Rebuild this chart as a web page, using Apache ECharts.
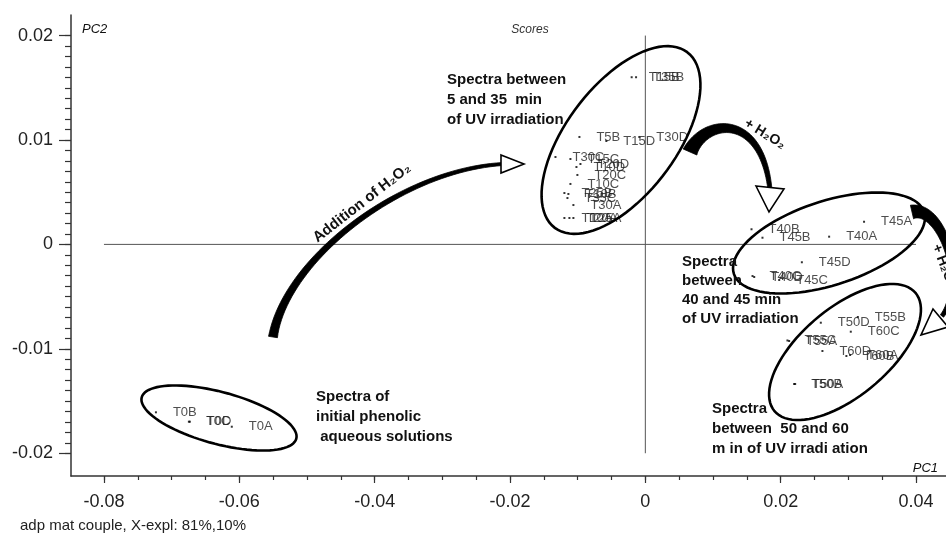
<!DOCTYPE html>
<html><head><meta charset="utf-8">
<script src="https://cdn.jsdelivr.net/npm/echarts@6/dist/echarts.min.js"></script>
<style>html,body{margin:0;padding:0;background:#fff}#c{width:946px;height:535px}</style>
</head><body><div id="c"></div>
<script>
// ---- data ----
const xTicks = [-0.08, -0.06, -0.04, -0.02, 0, 0.02, 0.04];
const yTicks = [-0.02, -0.01, 0, 0.01, 0.02];

const t0Labels = ['T0B', 'T0C', 'T0D', 'T0A'];
const t0PC1 = [-0.07232, -0.06745, -0.06731, -0.06111];
const t0PC2 = [-0.01608, -0.01698, -0.01698, -0.01746];

const t5Labels = ['T15B', 'T35B', 'T5B', 'T15D', 'T30D', 'T30C', 'T15C', 'T20D', 'T10D', 'T20C', 'T10C', 'T25B', 'T10B', 'T35C', 'T30A', 'T10A', 'T20A', 'T25A'];
const t5PC1 = [-0.00202, -0.00137, -0.00974, -0.00576, -0.00089, -0.01328, -0.01107, -0.00959, -0.01018, -0.01004, -0.01107, -0.01196, -0.01137, -0.01151, -0.01063, -0.01196, -0.01122, -0.01063];
const t5PC2 = [0.01601, 0.01601, 0.01029, 0.0099, 0.01029, 0.00837, 0.00818, 0.0077, 0.00741, 0.00665, 0.00579, 0.00492, 0.00483, 0.00444, 0.00377, 0.00253, 0.00253, 0.00253];

const t40Labels = ['T40B', 'T45B', 'T40A', 'T45A', 'T45D', 'T40C', 'T40D', 'T45C'];
const t40PC1 = [0.01569, 0.01731, 0.02716, 0.03232, 0.02313, 0.01584, 0.01609, 0.01978];
const t40PC2 = [0.00145, 0.00064, 0.00074, 0.00217, -0.00171, -0.00303, -0.00312, -0.00341];

const t50Labels = ['T50D', 'T55B', 'T60C', 'T55C', 'T55A', 'T60D', 'T60B', 'T60A', 'T50B', 'T50A'];
const t50PC1 = [0.02593, 0.0314, 0.03036, 0.021, 0.02125, 0.02617, 0.02971, 0.03026, 0.02199, 0.02214];
const t50PC2 = [-0.0075, -0.00695, -0.00836, -0.0092, -0.00925, -0.01021, -0.01069, -0.01059, -0.01337, -0.01337];

const hZeroPC1 = [-0.08, 0.04];
const vZeroPC2 = [-0.02, 0.02];

// ---- helpers ----
const FONT = '"Liberation Sans", Arial, sans-serif';
function pts(labels, xs, ys) { return labels.map((l, i) => ({ name: l, value: [xs[i], ys[i]] })); }
function minorTicks(a, b, step) { const r = []; const n = Math.round((b - a) / step); for (let i = 0; i <= n; i++) r.push(+(a + i * step).toFixed(4)); return r; }
const fmt = v => (Math.abs(v) < 1e-9 ? '0' : v.toFixed(2));

function ellipse(cx, cy, a, b, deg) {
  const r = deg * Math.PI / 180, p = [];
  for (let i = 0; i < 90; i++) {
    const t = i / 90 * 2 * Math.PI, x = a * Math.cos(t), y = b * Math.sin(t);
    p.push([cx + x * Math.cos(r) - y * Math.sin(r), cy + x * Math.sin(r) + y * Math.cos(r)]);
  }
  return { type: 'polygon', shape: { points: p }, style: { fill: 'none', stroke: '#000', lineWidth: 2.6 }, z: 50 };
}
function ribbon(p0, p1, p2, p3, w0, w1) {
  const L = [], R = [], N = 50;
  for (let i = 0; i <= N; i++) {
    const t = i / N, u = 1 - t;
    const x = u*u*u*p0[0] + 3*u*u*t*p1[0] + 3*u*t*t*p2[0] + t*t*t*p3[0];
    const y = u*u*u*p0[1] + 3*u*u*t*p1[1] + 3*u*t*t*p2[1] + t*t*t*p3[1];
    const dx = 3*u*u*(p1[0]-p0[0]) + 6*u*t*(p2[0]-p1[0]) + 3*t*t*(p3[0]-p2[0]);
    const dy = 3*u*u*(p1[1]-p0[1]) + 6*u*t*(p2[1]-p1[1]) + 3*t*t*(p3[1]-p2[1]);
    const len = Math.hypot(dx, dy) || 1, nx = -dy / len, ny = dx / len;
    const w = (w0 + (w1 - w0) * Math.pow(t, 0.7)) / 2;
    L.push([x + nx * w, y + ny * w]); R.push([x - nx * w, y - ny * w]);
  }
  return { type: 'polygon', shape: { points: L.concat(R.reverse()) }, style: { fill: '#000', stroke: '#000', lineWidth: 0.8 }, z: 50 };
}
function head(points) {
  return { type: 'polygon', shape: { points }, style: { fill: '#fff', stroke: '#000', lineWidth: 1.6 }, z: 51 };
}
function txt(x, y, text, font, extra) {
  return Object.assign({ type: 'text', x, y, z: 60, style: Object.assign({ text, font, fill: '#111' }, extra || {}) });
}

const chart = echarts.init(document.getElementById('c'), null, { renderer: 'canvas' });
const xMin = -0.08487, xMax = 0.04443, yMin = -0.02218, yMax = 0.02197;

const scatterBase = {
  type: 'scatter', symbol: 'rect', symbolSize: 2,
  itemStyle: { color: '#000' },
  label: { show: true, position: 'right', distance: 16, formatter: '{b}', fontSize: 13, color: '#222', fontFamily: FONT },
  labelLayout: { hideOverlap: false },
  z: 10
};

chart.setOption({
  animation: false,
  backgroundColor: '#fff',
  grid: { left: 71, right: 0, top: 15, bottom: 59, containLabel: false, outerBoundsMode: 'none' },
  xAxis: [
    { type: 'value', min: xMin, max: xMax, position: 'bottom',
      axisLine: { show: true, onZero: false, lineStyle: { color: '#333', width: 1.5 } },
      axisTick: { show: true, customValues: xTicks, length: 7, lineStyle: { color: '#333', width: 1.2 } },
      axisLabel: { show: true, customValues: xTicks, formatter: fmt, fontSize: 18, color: '#222', fontFamily: FONT, margin: 17 },
      splitLine: { show: false } },
    { type: 'value', min: xMin, max: xMax, position: 'bottom',
      axisLine: { show: false, onZero: false },
      axisTick: { show: true, customValues: minorTicks(-0.08, 0.04, 0.005), length: 4, lineStyle: { color: '#333', width: 1.2 } },
      axisLabel: { show: false }, splitLine: { show: false } }
  ],
  yAxis: [
    { type: 'value', min: yMin, max: yMax, position: 'left',
      axisLine: { show: true, onZero: false, lineStyle: { color: '#333', width: 1.5 } },
      axisTick: { show: true, customValues: yTicks, length: 12, lineStyle: { color: '#333', width: 1.2 } },
      axisLabel: { show: true, customValues: yTicks, formatter: fmt, fontSize: 18, color: '#222', fontFamily: FONT, margin: 18 },
      splitLine: { show: false } },
    { type: 'value', min: yMin, max: yMax, position: 'left',
      axisLine: { show: false, onZero: false },
      axisTick: { show: true, customValues: minorTicks(-0.02, 0.02, 0.001), length: 6, lineStyle: { color: '#333', width: 1.2 } },
      axisLabel: { show: false }, splitLine: { show: false } }
  ],
  series: [
    { type: 'line', data: hZeroPC1.map(x => [x, 0]), symbol: 'none', lineStyle: { color: '#555', width: 1 }, silent: true, z: 2 },
    { type: 'line', data: vZeroPC2.map(y => [0, y]), symbol: 'none', lineStyle: { color: '#555', width: 1 }, silent: true, z: 2 },
    Object.assign({}, scatterBase, { name: '0 min', data: pts(t0Labels, t0PC1, t0PC2) }),
    Object.assign({}, scatterBase, { name: '5-35 min', data: pts(t5Labels, t5PC1, t5PC2) }),
    Object.assign({}, scatterBase, { name: '40-45 min', data: pts(t40Labels, t40PC1, t40PC2) }),
    Object.assign({}, scatterBase, { name: '50-60 min', data: pts(t50Labels, t50PC1, t50PC2) })
  ],
  graphic: [
    // cluster ellipses
    ellipse(219, 418, 80, 26, 15),
    ellipse(621, 140, 110, 55, -53),
    ellipse(829, 243, 100, 42, -18),
    ellipse(845, 352, 92, 44, -40),
    // arrow: addition of H2O2
    ribbon([273, 337], [285, 260], [400, 170], [503, 164], 9, 3),
    head([[501, 155], [524, 164], [501, 173]]),
    // arrow 2
    ribbon([690, 152], [705, 118], [762, 112], [770, 190], 15, 4),
    head([[756, 186], [784, 189], [769, 212]]),
    // arrow 3
    ribbon([912, 212], [942, 205], [968, 282], [942, 316], 14, 4),
    head([[933, 309], [948, 327], [921, 335]]),
    // texts
    txt(530, 30, 'Scores', 'italic 12px ' + FONT, { align: 'center', verticalAlign: 'middle', fill: '#333' }),
    txt(82, 29, 'PC2', 'italic 13px ' + FONT, { align: 'left', verticalAlign: 'middle', fill: '#111' }),
    txt(938, 468, 'PC1', 'italic 13px ' + FONT, { align: 'right', verticalAlign: 'middle', fill: '#111' }),
    txt(20, 526, 'adp mat couple, X-expl: 81%,10%', '15px ' + FONT, { align: 'left', verticalAlign: 'middle', fill: '#222' }),
    txt(447, 70, 'Spectra between\n5 and 35  min\nof UV irradiation', 'bold 15px ' + FONT, { lineHeight: 20 }),
    txt(682, 252, 'Spectra\nbetween\n40 and 45 min\nof UV irradiation', 'bold 15px ' + FONT, { lineHeight: 19 }),
    txt(712, 399, 'Spectra\nbetween  50 and 60\nm in of UV irradi ation', 'bold 15px ' + FONT, { lineHeight: 20 }),
    txt(316, 387, 'Spectra of\ninitial phenolic\n aqueous solutions', 'bold 15px ' + FONT, { lineHeight: 20 }),
    Object.assign(txt(362, 203, 'Addition of H₂O₂', 'bold 15px ' + FONT, { align: 'center', verticalAlign: 'middle' }), { rotation: 0.66 }),
    Object.assign(txt(765, 134, '+ H₂O₂', 'bold 14px ' + FONT, { align: 'center', verticalAlign: 'middle' }), { rotation: -0.55 }),
    Object.assign(txt(944, 266, '+ H₂O₂', 'bold 14px ' + FONT, { align: 'center', verticalAlign: 'middle' }), { rotation: -1.2 })
  ]
});
</script></body></html>
